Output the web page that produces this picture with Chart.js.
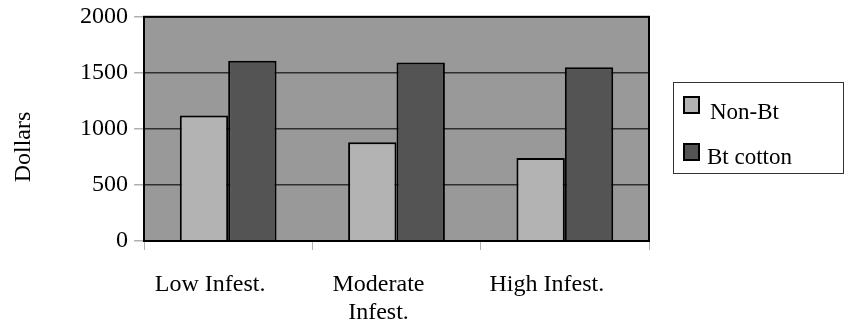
<!DOCTYPE html>
<html>
<head>
<meta charset="utf-8">
<script src="https://cdn.jsdelivr.net/npm/chart.js@4/dist/chart.umd.min.js"></script>
<style>
  html, body { margin: 0; padding: 0; background: #fff; }
  #wrap { width: 845px; height: 321px; }
</style>
</head>
<body>
<div id="wrap"><canvas id="myChart" width="845" height="321"></canvas></div>
<script>
// Data
var categories = [['Low Infest.'], ['Moderate', 'Infest.'], ['High Infest.']];
var seriesNames = ['Non-Bt', 'Bt cotton'];
var nonBt = [1120, 880, 740];
var btCotton = [1608, 1593, 1549];
var yTicks = [0, 500, 1000, 1500, 2000];
var yTitle = 'Dollars';

var serif = '"Liberation Serif", "Times New Roman", serif';
var lightFill = '#b3b3b3';
var darkFill = '#545454';

// frame, plot background, axis title and boxed legend
var decor = {
    id: 'decor',
    beforeDraw: function(chart){
        var a = chart.chartArea, c = chart.ctx;
        c.save();
        c.fillStyle = '#999999';
        c.fillRect(a.left, a.top, a.right - a.left, a.bottom - a.top);
        c.restore();
    },
    afterDraw: function(chart){
        var a = chart.chartArea, c = chart.ctx;
        c.save();
        // plot frame
        c.strokeStyle = '#000';
        c.lineWidth = 2;
        c.strokeRect(a.left, a.top, a.right - a.left, a.bottom - a.top);

        // y axis title
        c.translate(24, 147);
        c.rotate(-Math.PI / 2);
        c.fillStyle = '#000';
        c.font = '24px ' + serif;
        c.textAlign = 'center';
        c.textBaseline = 'middle';
        c.fillText(yTitle, 0, 0);
        c.setTransform(1, 0, 0, 1, 0, 0);

        // legend
        c.lineWidth = 1;
        c.strokeStyle = '#333';
        c.strokeRect(673.5, 82.5, 170, 91);
        var items = [
            {label: chart.data.datasets[0].label, fill: chart.data.datasets[0].backgroundColor, by: 97, tx: 710, ty: 113},
            {label: chart.data.datasets[1].label, fill: chart.data.datasets[1].backgroundColor, by: 144, tx: 707, ty: 158}
        ];
        c.font = '23px ' + serif;
        c.textAlign = 'left';
        c.textBaseline = 'middle';
        items.forEach(function(it){
            c.fillStyle = it.fill;
            c.fillRect(684, it.by, 15, 16);
            c.lineWidth = 2;
            c.strokeStyle = '#000';
            c.strokeRect(684, it.by, 15, 16);
            c.fillStyle = '#000';
            c.fillText(it.label, it.tx, it.ty);
        });
        c.restore();
    }
};

var ctx = document.getElementById('myChart').getContext('2d');
var myChart = new Chart(ctx, {
    type: 'bar',
    data: {
        labels: categories,
        datasets: [{
            label: seriesNames[0],
            data: nonBt,
            backgroundColor: lightFill,
            borderColor: '#000',
            borderWidth: 2,
            categoryPercentage: 0.575,
            barPercentage: 1
        }, {
            label: seriesNames[1],
            data: btCotton,
            backgroundColor: darkFill,
            borderColor: '#000',
            borderWidth: 2,
            categoryPercentage: 0.575,
            barPercentage: 1
        }]
    },
    options: {
        responsive: false,
        animation: false,
        layout: { padding: { top: 15, right: 196, left: 0, bottom: 0 } },
        plugins: {
            legend: { display: false },
            tooltip: { enabled: false }
        },
        scales: {
            x: {
                grid: {
                    offset: true,
                    drawOnChartArea: false,
                    tickLength: 9,
                    color: '#b0b0b0'
                },
                border: { display: true, color: '#000', width: 2 },
                ticks: {
                    color: '#000',
                    font: { family: serif, size: 24 },
                    padding: 20,
                    labelOffset: -18,
                    maxRotation: 0,
                    autoSkip: false
                },
                afterFit: function(s){ s.height = 80; }
            },
            y: {
                min: 0,
                max: 2000,
                afterBuildTicks: function(s){
                    s.ticks = yTicks.map(function(v){ return {value: v}; });
                },
                grid: {
                    color: '#2e2e2e',
                    lineWidth: 1.5,
                    tickLength: 10,
                    tickColor: '#b0b0b0'
                },
                border: { display: true, color: '#000', width: 2 },
                ticks: {
                    color: '#000',
                    font: { family: serif, size: 24, lineHeight: 0.9 },
                    padding: 6,
                    callback: function(v){ return String(v); }
                },
                afterFit: function(s){ s.width = 144; }
            }
        }
    },
    plugins: [decor]
});
</script>
</body>
</html>
